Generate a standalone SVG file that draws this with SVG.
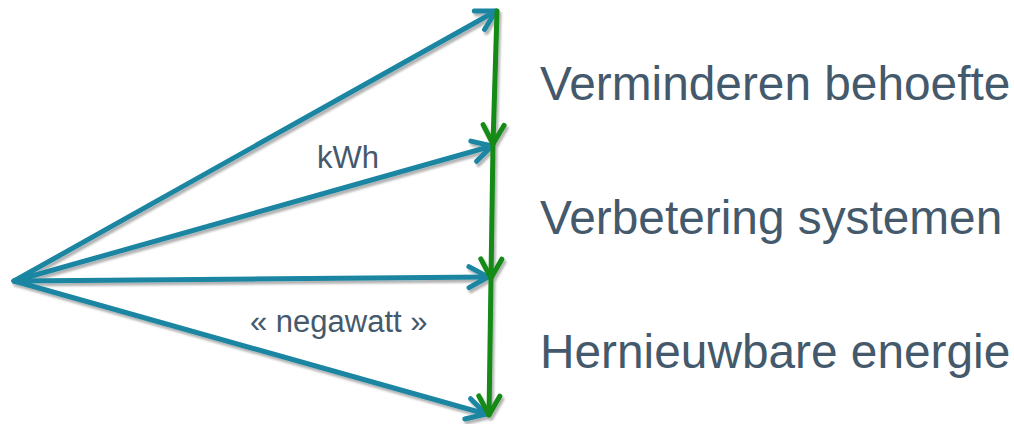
<svg xmlns="http://www.w3.org/2000/svg" width="1014" height="424" viewBox="0 0 1014 424">
<style>
.blue{stroke:#1a86a2;stroke-width:5;fill:none;stroke-linecap:round}
.green{stroke:#138a15;stroke-width:5;fill:none;stroke-linecap:round}
.lbl{font-family:"Liberation Sans",Arial,sans-serif;fill:#44596b}
.big{font-size:47.8px}
.small{font-size:31px}
</style>
<defs>
<filter id="sh" x="-10%" y="-10%" width="120%" height="130%">
<feDropShadow dx="2" dy="3" stdDeviation="1.2" flood-color="#000" flood-opacity="0.3"/>
</filter>
<marker id="ab" markerUnits="userSpaceOnUse" viewBox="-24 -14 28 28" refX="0" refY="0" markerWidth="28" markerHeight="28" orient="auto" overflow="visible">
<path d="M-19,-10.5 L0,0 L-19,10.5" fill="none" stroke="#1a86a2" stroke-width="5" stroke-linecap="round" stroke-linejoin="round"/>
</marker>
<marker id="ag" markerUnits="userSpaceOnUse" viewBox="-24 -14 28 28" refX="0" refY="0" markerWidth="28" markerHeight="28" orient="auto" overflow="visible">
<path d="M-19,-10.5 L0,0 L-19,10.5" fill="none" stroke="#138a15" stroke-width="5" stroke-linecap="round" stroke-linejoin="round"/>
</marker>
</defs>
<rect width="1014" height="424" fill="#ffffff"/>
<g id="connectors" filter="url(#sh)">
<line class="blue" x1="14" y1="281" x2="496" y2="11" marker-end="url(#ab)"/>
<line class="blue" x1="14" y1="281" x2="492" y2="146" marker-end="url(#ab)"/>
<line class="blue" x1="14" y1="281" x2="488" y2="277" marker-end="url(#ab)"/>
<line class="blue" x1="14" y1="281" x2="486" y2="414" marker-end="url(#ab)"/>
<line class="green" x1="497" y1="11" x2="493" y2="144" marker-end="url(#ag)"/>
<line class="green" x1="493" y1="144" x2="491" y2="278" marker-end="url(#ag)"/>
<line class="green" x1="491" y1="278" x2="489" y2="415" marker-end="url(#ag)"/>
</g>
<g id="label-kwh"><text class="lbl small" x="317" y="168">kWh</text></g>
<g id="label-negawatt"><text class="lbl small" x="250" y="332">« negawatt »</text></g>
<g id="node-verminderen"><text class="lbl big" x="540" y="100">Verminderen behoefte</text></g>
<g id="node-verbetering"><text class="lbl big" x="540" y="234">Verbetering systemen</text></g>
<g id="node-hernieuwbare"><text class="lbl big" x="540" y="368">Hernieuwbare energie</text></g>
</svg>
